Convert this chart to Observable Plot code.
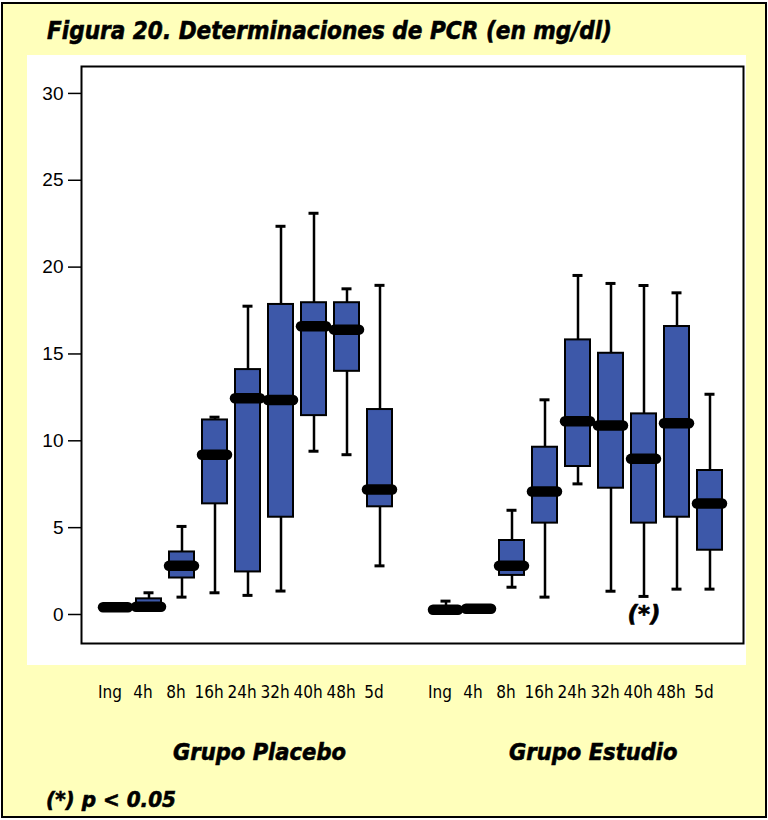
<!DOCTYPE html>
<html>
<head>
<meta charset="utf-8">
<script src="https://cdn.jsdelivr.net/npm/d3@7"></script>
<script src="https://cdn.jsdelivr.net/npm/@observablehq/plot@0.6"></script>
<style>
  html, body { margin: 0; padding: 0; background: #ffffff; }
  body { width: 768px; height: 820px; position: relative; overflow: hidden; }
  #card { position: absolute; left: 1px; top: 2px; width: 762px; height: 812px; border: 2px solid #000; background: #ffffbb; }
  #panel { position: absolute; left: 27px; top: 55px; width: 719px; height: 610px; background: #ffffff; }
  #chart { position: absolute; left: 0; top: 0; }
  .lbl { position: absolute; white-space: nowrap; font-family: "DejaVu Sans", sans-serif; font-weight: bold; font-style: italic; color: #000; transform-origin: 0 0; -webkit-text-stroke: 0.6px #000; }
</style>
</head>
<body>
<div id="card"></div>
<div id="panel"></div>
<div id="chart"></div>
<div class="lbl" id="title" style="left:47px; top:17px; font-size:24px;">Figura 20. Determinaciones de PCR (en mg/dl)</div>
<div class="lbl" id="gPlacebo" style="left:173px; top:739px; font-size:23px;">Grupo Placebo</div>
<div class="lbl" id="gEstudio" style="left:509px; top:739px; font-size:23px;">Grupo Estudio</div>
<div class="lbl" id="note" style="left:46px; top:788px; font-size:21px;">(*) p &lt; 0.05</div>
<script>
// Time points measured in each group
const categories = ["Ing", "4h", "8h", "16h", "24h", "32h", "40h", "48h", "5d"];
const groups = ["Placebo", "Estudio"];

// PCR (mg/dl) box summaries, Grupo Placebo
const placeboMin    = [0.30, 0.25, 1.00, 1.25, 1.10, 1.35, 9.40, 9.20, 2.80];
const placeboQ1     = [0.35, 0.35, 2.10, 6.37, 2.45, 5.60, 11.45, 14.00, 6.20];
const placeboMedian = [0.42, 0.45, 2.80, 9.20, 12.45, 12.35, 16.60, 16.40, 7.20];
const placeboQ3     = [0.50, 0.90, 3.60, 11.20, 14.10, 17.85, 17.95, 17.95, 11.80];
const placeboMax    = [0.55, 1.25, 5.07, 11.36, 17.75, 22.35, 23.10, 18.75, 18.95];

// PCR (mg/dl) box summaries, Grupo Estudio
const estudioMin    = [0.15, 0.25, 1.57, 1.00, 7.52, 1.34, 1.04, 1.46, 1.46];
const estudioQ1     = [0.20, 0.30, 2.25, 5.26, 8.52, 7.27, 5.26, 5.60, 3.70];
const estudioMedian = [0.27, 0.33, 2.80, 7.08, 11.13, 10.88, 8.96, 11.01, 6.39];
const estudioQ3     = [0.35, 0.38, 4.26, 9.63, 15.81, 15.04, 11.55, 16.58, 8.29];
const estudioMax    = [0.77, 0.42, 6.00, 12.36, 19.52, 19.06, 18.94, 18.52, 12.68];

// Significant difference marker (p < 0.05)
const significant = [{group: "Estudio", category: "40h", label: "(*)"}];

const yTicks = [0, 5, 10, 15, 20, 25, 30];

const key = (g, c) => `${g}|${c}`;
const rows = [];
categories.forEach((c, i) => rows.push({key: key("Placebo", c), min: placeboMin[i], q1: placeboQ1[i], median: placeboMedian[i], q3: placeboQ3[i], max: placeboMax[i]}));
categories.forEach((c, i) => rows.push({key: key("Estudio", c), min: estudioMin[i], q1: estudioQ1[i], median: estudioMedian[i], q3: estudioQ3[i], max: estudioMax[i]}));

// one empty slot separates the two groups
const xDomain = [...categories.map(c => key("Placebo", c)), "gap", ...categories.map(c => key("Estudio", c))];

const boxFill = "#3d58a9";

const chart = Plot.plot({
  width: 768,
  height: 720,
  marginTop: 66,
  marginLeft: 81,
  marginRight: 25,
  marginBottom: 77,
  style: {background: "transparent", overflow: "visible"},
  x: {type: "band", domain: xDomain, paddingInner: 0.245, paddingOuter: 0.6225, axis: null},
  y: {domain: [-1.67, 31.55], axis: null},
  marks: [
    Plot.axisY({ticks: yTicks, tickSize: 13, tickPadding: 5, strokeWidth: 1.5, fontSize: 19, fontFamily: "'Liberation Sans', Arial, sans-serif", fill: "#000", label: null}),
    Plot.axisX({tickSize: 0, tickPadding: 42, dx: -6, tickFormat: k => (k.split("|")[1] ?? ""), fontSize: 17, fontFamily: "'DejaVu Sans Condensed', 'Liberation Sans Narrow', sans-serif", fill: "#000", label: null}),
    // whiskers and caps
    Plot.ruleX(rows, {x: "key", y1: "min", y2: "max", stroke: "#000", strokeWidth: 2.5}),
    Plot.tickY(rows, {x: "key", y: "max", stroke: "#000", strokeWidth: 3, insetLeft: 7.5, insetRight: 7.5}),
    Plot.tickY(rows, {x: "key", y: "min", stroke: "#000", strokeWidth: 3, insetLeft: 7.5, insetRight: 7.5}),
    // interquartile boxes
    Plot.barY(rows, {x: "key", y1: "q1", y2: "q3", fill: boxFill, stroke: "#000", strokeWidth: 2}),
    // medians
    Plot.tickY(rows, {x: "key", y: "median", stroke: "#000", strokeWidth: 10.5, strokeLinecap: "round", insetLeft: 0, insetRight: 0}),
    Plot.text(significant, {x: d => key(d.group, d.category), y: 0, text: "label", fontSize: 23, fontWeight: "bold", fontStyle: "italic", fontFamily: "'DejaVu Sans', sans-serif", fill: "#000", stroke: "#000", strokeWidth: 0.6}),
    Plot.frame({stroke: "#000", strokeWidth: 2})
  ]
});
document.getElementById("chart").appendChild(chart);

// condense the bold italic labels horizontally
function condense(id, width) {
  const el = document.getElementById(id);
  const w = el.getBoundingClientRect().width;
  if (w) el.style.transform = `scaleX(${width / w})`;
  return w ? width / w : 1;
}
condense("title", 565);
const groupScale = condense("gPlacebo", 173);
document.getElementById("gEstudio").style.transform = `scaleX(${groupScale})`;
condense("note", 130);
</script>
</body>
</html>
